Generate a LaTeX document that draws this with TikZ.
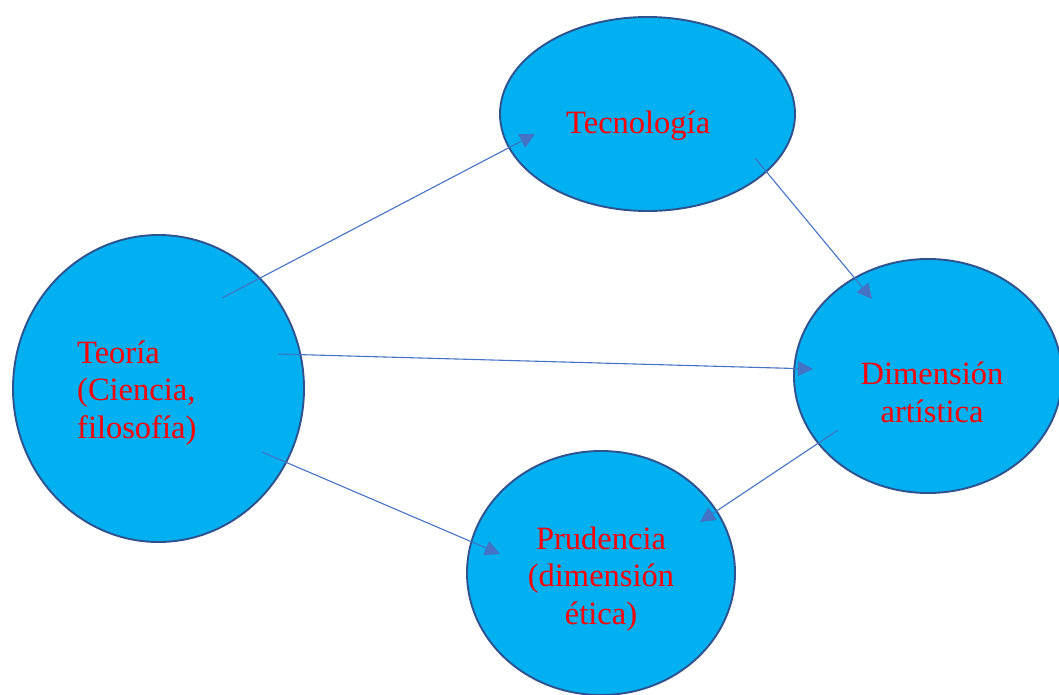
\documentclass[tikz,border=0pt]{standalone}
\usepackage{fontspec}
\setmainfont{Liberation Serif}
\usetikzlibrary{arrows.meta,shapes.geometric}
\definecolor{fillblue}{HTML}{00B0F0}
\definecolor{edgeblue}{HTML}{2F528F}
\definecolor{arrowblue}{HTML}{4472C4}
\definecolor{txtred}{HTML}{FF0000}
\begin{document}
\begin{tikzpicture}[x=1pt,y=-1pt,
  bubble/.style={ellipse,draw=edgeblue,line width=1.9pt,fill=fillblue,inner sep=0pt},
  lbl/.style={text=txtred,font=\fontsize{32.5}{37.5}\selectfont,inner sep=0pt},
  conn/.style={draw=arrowblue,line width=1.1pt,-{Triangle[length=15pt,width=15pt]}}]
\useasboundingbox (0,0) rectangle (1059,695);
\node[bubble,minimum width=295pt,minimum height=194pt] (tec) at (647.5,114) {};
\node[bubble,minimum width=291pt,minimum height=307pt] (teo) at (158.5,388.5) {};
\node[bubble,minimum width=268pt,minimum height=234pt] (dim) at (928,376) {};
\node[bubble,minimum width=268pt,minimum height=244pt] (pru) at (601,573) {};
\node[lbl,anchor=base west] (ttec) at (566,134) {Tecnología};
\node[lbl,anchor=base west,align=left] (tteo) at (77,438) {Teoría\\(Ciencia,\\filosofía)};
\node[lbl,anchor=base,align=center] (tdim) at (932,422) {Dimensión\\artística};
\node[lbl,anchor=base,align=center] (tpru) at (601,624) {Prudencia\\(dimensión\\ética)};
\coordinate (s1) at (222,298); \coordinate (e1) at (535,134);
\coordinate (s2) at (278,354); \coordinate (e2) at (813,369);
\coordinate (s3) at (262,452); \coordinate (e3) at (500,554);
\coordinate (s4) at (755,158); \coordinate (e4) at (872,299);
\coordinate (s5) at (838,430); \coordinate (e5) at (700,522);
\draw[conn] (s1) -- (e1);
\draw[conn] (s2) -- (e2);
\draw[conn] (s3) -- (e3);
\draw[conn] (s4) -- (e4);
\draw[conn] (s5) -- (e5);
\end{tikzpicture}
\end{document}
